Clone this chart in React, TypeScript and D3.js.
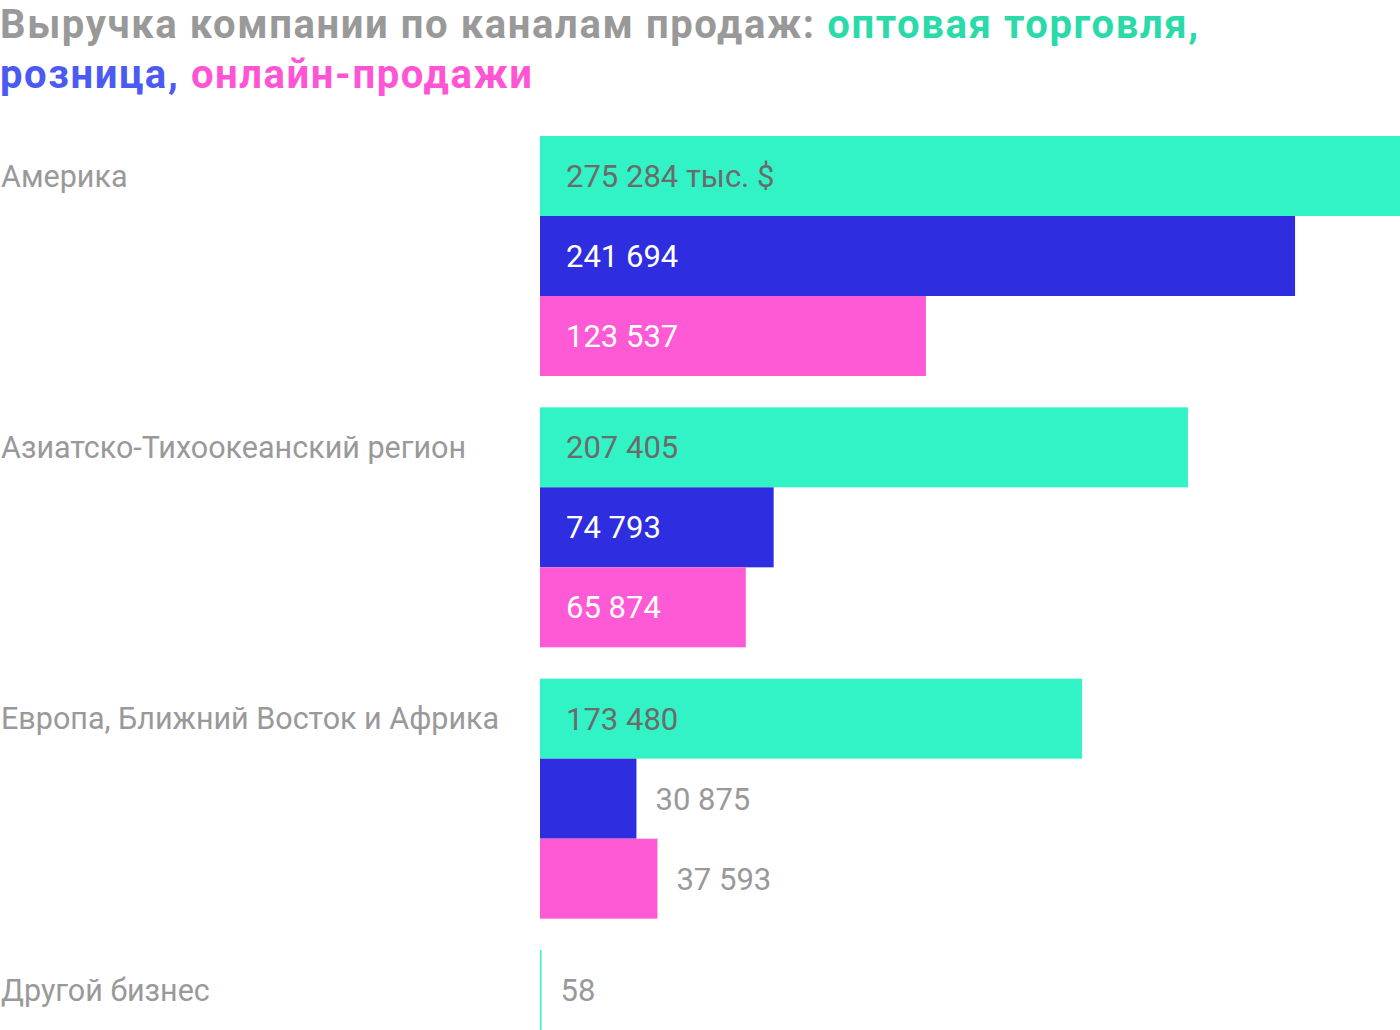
import React, { useEffect, useRef } from 'react';
import * as d3 from 'd3';

const regions = [
  'Америка',
  'Азиатско-Тихоокеанский регион',
  'Европа, Ближний Восток и Африка',
  'Другой бизнес',
];
const channels = ['опт', 'розница', 'онлайн'];
const wholesale = [275284, 207405, 173480, 58];
const retail = [241694, 74793, 30875, 0];
const online = [123537, 65874, 37593, 0];

const barColors = ['#32F3C5', '#2E2EE0', '#FF5AD6'];
const labelInside = ['#6b6b6b', '#ffffff', '#ffffff'];

const W = 1400;
const H = 1030;

const App = () => {
  const ref = useRef<SVGSVGElement>(null);

  useEffect(() => {
    const svg = d3.select(ref.current);
    svg.selectAll('*').remove();

    const font = 'Roboto, sans-serif';

    // title
    const title = svg.append('text')
      .attr('font-family', font)
      .attr('font-weight', 700)
      .attr('font-size', 40)
      .attr('letter-spacing', 1.6);
    const line1 = title.append('tspan').attr('x', 0).attr('y', 38);
    line1.append('tspan').attr('fill', '#999999').text('Выручка компании по каналам продаж: ');
    line1.append('tspan').attr('fill', '#2ADBA9').text('оптовая торговля,');
    const line2 = title.append('tspan').attr('x', 0).attr('y', 88);
    line2.append('tspan').attr('fill', '#4A5AF2').text('розница, ');
    line2.append('tspan').attr('fill', '#FF55D5').text('онлайн-продажи');

    const rows = regions.map((r, i) => ({
      region: r,
      values: [wholesale[i], retail[i], online[i]],
    }));

    const x = d3.scaleLinear().domain([0, 275284]).range([540, 1400]);
    const y = d3.scaleBand().domain(regions).range([136, 1190]).paddingInner(0.1155);
    const ySub = d3.scaleBand().domain(channels).range([0, y.bandwidth()]);
    const fmt = (v: number) => d3.format(',')(v).replace(/,/g, ' ');

    const groups = svg.selectAll('.grp')
      .data(rows)
      .enter()
      .append('g')
      .attr('class', 'grp')
      .attr('transform', d => `translate(0, ${y(d.region)})`);

    groups.append('text')
      .attr('x', 1)
      .attr('y', ySub.bandwidth() / 2)
      .attr('dy', '0.35em')
      .attr('font-family', font)
      .attr('font-size', 30.5)
      .attr('fill', '#999999')
      .text(d => d.region);

    groups.each(function (d, gi) {
      const g = d3.select(this);
      d.values.forEach((v, ci) => {
        if (v <= 0) return;
        const w = Math.max(x(v) - x(0), 1.5);
        const top = ySub(channels[ci])!;
        g.append('rect')
          .attr('x', x(0))
          .attr('y', top)
          .attr('width', w)
          .attr('height', ySub.bandwidth())
          .attr('fill', barColors[ci]);
        const inside = w > 170;
        g.append('text')
          .attr('x', inside ? x(0) + 26 : x(0) + w + 19)
          .attr('y', top + ySub.bandwidth() / 2)
          .attr('dy', '0.35em')
          .attr('font-family', font)
          .attr('font-size', 31)
          .attr('fill', inside ? labelInside[ci] : '#999999')
          .text(fmt(v) + (gi === 0 && ci === 0 ? ' тыс. $' : ''));
      });
    });
  }, []);

  return (
    <svg
      ref={ref}
      width={W}
      height={H}
      style={{ position: 'absolute', left: 0, top: 0, background: '#fff' }}
    />
  );
};

export default App;
